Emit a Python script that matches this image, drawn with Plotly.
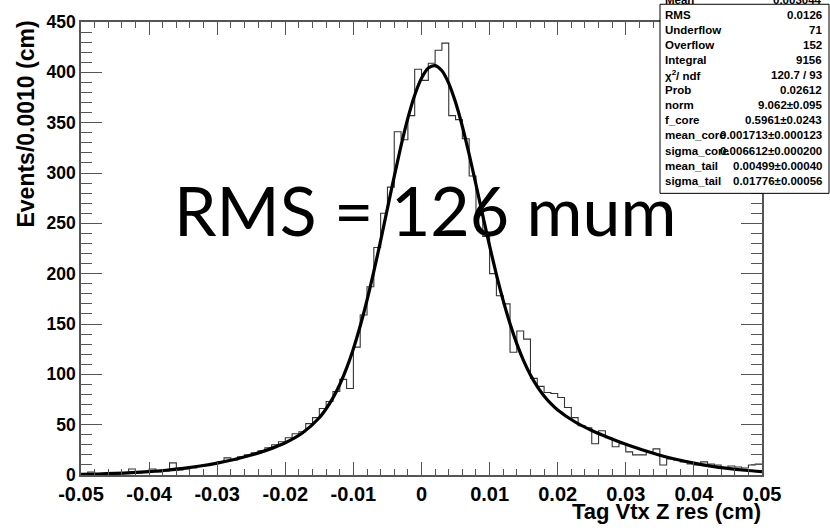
import numpy as np
import plotly.graph_objects as go

# ---- histogram data (100 bins of 0.0010 cm from -0.05 to 0.05) ----
bin_lo = -0.05
bin_hi = 0.05
n_bins = 100
counts = [1, 3, 1, 1, 2, 1, 2, 6, 2, 3,
          6, 3, 4, 12, 5, 6, 7, 9, 10, 11,
          13, 17, 15, 18, 20, 22, 24, 27, 30, 33,
          37, 41, 43, 51, 57, 66, 73, 83, 95, 86,
          127, 159, 187, 226, 260, 286, 341, 333, 357, 403,
          392, 409, 422, 429, 357, 353, 334, 297, 258, 237,
          200, 178, 170, 122, 143, 135, 96, 88, 82, 81,
          77, 67, 57, 49, 47, 31, 44, 37, 28, 31,
          23, 20, 20, 23, 26, 10, 16, 15, 13, 11,
          10, 13, 11, 10, 7, 9, 8, 7, 10, 11]

# ---- fit curve ----
fit_x = [-0.05, -0.0475, -0.045, -0.0425, -0.04, -0.0375, -0.035, -0.0325, -0.03, -0.0275,
         -0.025, -0.0225, -0.02, -0.0175, -0.015, -0.014, -0.013, -0.012, -0.011, -0.010,
         -0.009, -0.008, -0.007, -0.006, -0.005, -0.004, -0.003, -0.002, -0.001, 0.0,
         0.001, 0.002, 0.003, 0.004, 0.005, 0.006, 0.007, 0.008, 0.009, 0.010,
         0.011, 0.012, 0.013, 0.014, 0.015, 0.016, 0.017, 0.018, 0.019, 0.020,
         0.0225, 0.025, 0.0275, 0.03, 0.0325, 0.035, 0.0375, 0.04, 0.0425, 0.045,
         0.0475, 0.05]
fit_y = [0.7, 1.0, 1.6, 2.3, 3.3, 4.7, 6.5, 8.9, 11.8, 15.4,
         19.8, 25.2, 32.0, 41.7, 56.9, 65.8, 76.6, 89.9, 106.1, 125.5,
         148.0, 173.7, 202.2, 232.9, 264.9, 296.7, 327.1, 354.5, 377.3, 394.1,
         404.2, 406.6, 401.5, 389.1, 370.2, 346.2, 318.4, 288.4, 257.6, 227.6,
         199.1, 173.2, 150.2, 130.3, 113.4, 99.4, 87.9, 78.6, 70.9, 64.6,
         52.9, 44.2, 37.0, 30.5, 24.8, 19.7, 15.4, 11.8, 8.8, 6.5,
         4.7, 3.3]

# ---- axis tick labels ----
x_tick_vals = [-0.05, -0.04, -0.03, -0.02, -0.01, 0.0, 0.01, 0.02, 0.03, 0.04, 0.05]
x_tick_text = ["-0.05", "-0.04", "-0.03", "-0.02", "-0.01", "0", "0.01", "0.02", "0.03", "0.04", "0.05"]
y_tick_vals = [0, 50, 100, 150, 200, 250, 300, 350, 400, 450]
y_tick_text = ["0", "50", "100", "150", "200", "250", "300", "350", "400", "450"]

# ---- stats box ----
stat_names = ["Mean", "RMS", "Underflow", "Overflow", "Integral", "χ<sup>2</sup>/ ndf", "Prob",
              "norm", "f_core", "mean_core", "sigma_core", "mean_tail", "sigma_tail"]
stat_values = ["0.003044", "0.0126", "71", "152", "9156", "120.7 / 93", "0.02612",
               "9.062±0.095", "0.5961±0.0243", "0.001713±0.000123", "0.006612±0.000200",
               "0.00499±0.00040", "0.01776±0.00056"]

x_title = "Tag Vtx Z res (cm)"
y_title = "Events/0.0010 (cm)"
big_label = "RMS = 126 mum"

edges = np.linspace(bin_lo, bin_hi, n_bins + 1)
hx = list(edges)
hy = list(counts) + [counts[-1]]

fig = go.Figure()
fig.add_trace(go.Scatter(x=hx, y=hy, mode="lines", line=dict(shape="hv", color="#333333", width=1.1),
                         hoverinfo="skip", showlegend=False))
fig.add_trace(go.Scatter(x=fit_x, y=fit_y, mode="lines",
                         line=dict(shape="spline", smoothing=0.8, color="black", width=3.2),
                         showlegend=False))

W, H = 830, 528
L, R, T, B = 81, 68, 15, 53
pw, ph = W - L - R, H - T - B

def px_x(p):
    return (p - L) / pw

def px_y(p):
    return (H - B - p) / ph

axis_col = "#555555"
bold = "Liberation Sans, Arial, sans-serif"

fig.update_xaxes(range=[bin_lo, bin_hi], showgrid=False, zeroline=False,
                 showline=True, linecolor=axis_col, linewidth=1.5, mirror="ticks",
                 ticks="inside", ticklen=13, tickcolor=axis_col, tickwidth=1,
                 tickvals=x_tick_vals, ticktext=x_tick_text,
                 tickfont=dict(family=bold, size=20, color="black", weight="bold"),
                 minor=dict(ticks="inside", ticklen=6, dtick=0.002, tickcolor=axis_col, tickwidth=1))
fig.update_yaxes(range=[0, 450], showgrid=False, zeroline=False,
                 showline=True, linecolor=axis_col, linewidth=1.5, mirror="ticks",
                 ticks="inside", ticklen=21, tickcolor=axis_col, tickwidth=1,
                 tickvals=y_tick_vals, ticktext=y_tick_text,
                 tickfont=dict(family=bold, size=17.5, color="black", weight="bold"),
                 minor=dict(ticks="inside", ticklen=11, dtick=10, tickcolor=axis_col, tickwidth=1))

annotations = []
annotations.append(dict(text="<b>%s</b>" % x_title, xref="paper", yref="paper",
                        x=px_x(763), y=px_y(512), xanchor="right", yanchor="middle",
                        showarrow=False, font=dict(family=bold, size=22, color="black")))
annotations.append(dict(text="<b>%s</b>" % y_title, xref="paper", yref="paper",
                        x=px_x(26), y=px_y(12), xanchor="center", yanchor="top", textangle=-90,
                        showarrow=False, font=dict(family=bold, size=23, color="black")))

# stats box
box_x0, box_x1, box_y0, box_y1 = 660, 829, 189, -3
shapes = [dict(type="rect", xref="paper", yref="paper", x0=px_x(box_x0), x1=px_x(box_x1),
               y0=px_y(box_y0), y1=px_y(box_y1), fillcolor="white",
               line=dict(color="black", width=1), layer="above")]
row0 = -7.0
row_step = 15.25
for i, (nm, val) in enumerate(zip(stat_names, stat_values)):
    yy = row0 + row_step * i
    annotations.append(dict(text="<b>%s</b>" % nm, xref="paper", yref="paper",
                            x=px_x(663), y=px_y(yy), xanchor="left", yanchor="middle",
                            showarrow=False, font=dict(family=bold, size=11.5, color="black")))
    annotations.append(dict(text="<b>%s</b>" % val, xref="paper", yref="paper",
                            x=px_x(824), y=px_y(yy), xanchor="right", yanchor="middle",
                            showarrow=False, font=dict(family=bold, size=11.5, color="black")))

annotations.append(dict(text=big_label, xref="paper", yref="paper",
                        x=px_x(172), y=px_y(205), xanchor="left", yanchor="middle",
                        showarrow=False, font=dict(family="Lato, sans-serif", size=68, color="black")))

fig.update_layout(width=W, height=H, autosize=False,
                  margin=dict(l=L, r=R, t=T, b=B, pad=0),
                  paper_bgcolor="white", plot_bgcolor="white",
                  showlegend=False, shapes=shapes, annotations=annotations)

fig.write_html("out.html", config={"displayModeBar": False},
               post_script="document.body.style.margin='0px';document.body.style.padding='0px';"
                           "document.body.style.overflow='hidden';")
